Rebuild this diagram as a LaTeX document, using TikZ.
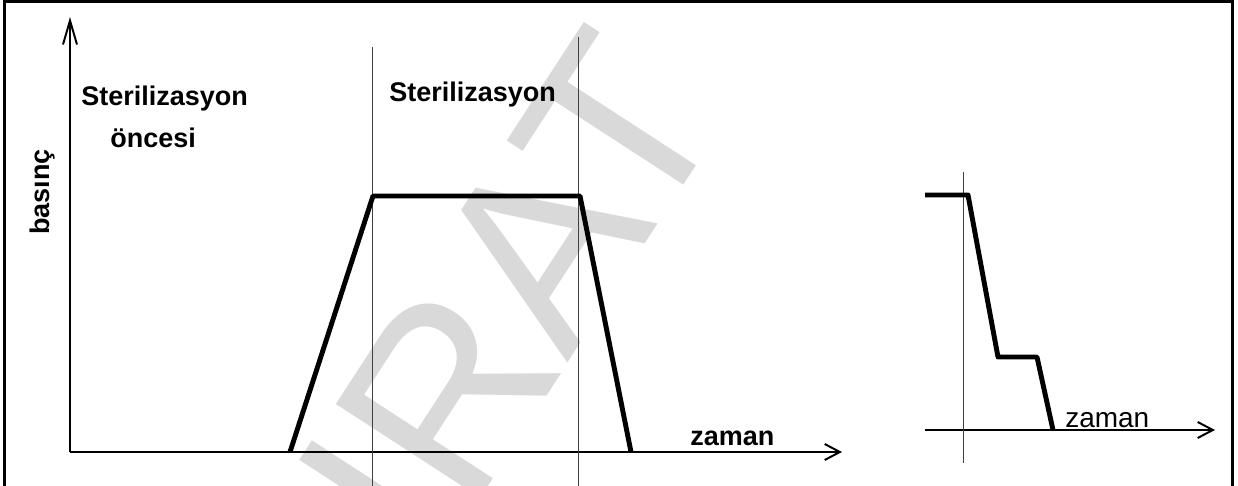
\documentclass[tikz,border=0pt]{standalone}
\usepackage{fontspec}
\setmainfont{Liberation Sans}
\usetikzlibrary{arrows.meta}

\begin{document}
\begin{tikzpicture}[x=0.025cm, y=-0.025cm,
  frame/.style={line width=2.1pt},
  axis/.style={line width=1.4pt},
  curve/.style={line width=3.5pt, line join=round},
  guide/.style={line width=0.6pt, black!75},
  lbl/.style={font=\fontsize{19.2}{22}\selectfont\bfseries, inner sep=0pt, anchor=base west},
  lblthin/.style={font=\fontsize{19.9}{22}\selectfont, inner sep=0pt, anchor=base west},
  stamp/.style={font=\fontsize{178}{200}\selectfont, text=black!15, inner sep=0pt, anchor=base west, rotate=57},
]
\useasboundingbox (0,0) rectangle (1238,486);

% === WATERMARK ===
\begin{scope}
  \clip (0,0) rectangle (1238,486);
  \node[stamp] (wm) at (431,574) {IRAT};
\end{scope}

% === FRAME ===
\draw[frame] (4.5,490) -- (4.5,1.5) -- (1232.5,1.5) -- (1232.5,490);

% === MAIN CHART ===
\coordinate (o) at (70,452);
\draw[axis, -{Straight Barb[length=0.6cm, width=0.35cm]}] (o) -- (70,17);
\draw[axis, -{Straight Barb[length=0.38cm, width=0.4cm]}] (o) -- (842,452);
\draw[guide] (372,47) -- (372,486);
\draw[guide] (578,37) -- (578,486);
\draw[curve] (290,452) -- (373,196) -- (580,196) -- (631,452);

\node[lbl] (pre1) at (81,106) {Sterilizasyon};
\node[lbl] (pre2) at (110,148) {öncesi};
\node[lbl] (ster) at (389,102) {Sterilizasyon};
\node[lbl, rotate=90] (ylab) at (50,235) {basınç};
\node[lbl] (xlab) at (690,445) {zaman};

% === COOLING CHART ===
\coordinate (o2) at (925,430);
\draw[axis, -{Straight Barb[length=0.38cm, width=0.4cm]}] (o2) -- (1215,430);
\draw[guide] (963,172) -- (963,463);
\draw[curve] (925,195) -- (968,195) -- (998,357) -- (1037,357) -- (1053,430);
\node[lblthin] (xlab2) at (1065,427) {zaman};
\end{tikzpicture}
\end{document}
